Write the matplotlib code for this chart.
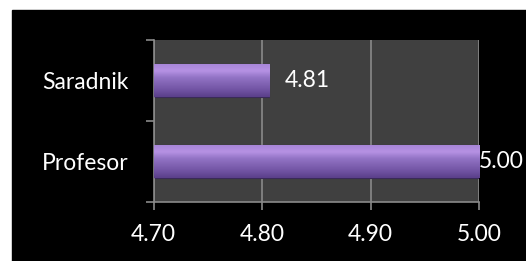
import numpy as np
import matplotlib.pyplot as plt
from matplotlib.colors import LinearSegmentedColormap

# data
categories = ['Profesor', 'Saradnik']
values = [5.00, 4.806]
xticks = [4.70, 4.80, 4.90, 5.00]
xmin, xmax = 4.70, 5.00

plt.rcParams['font.family'] = ['Lato', 'DejaVu Sans']

fig = plt.figure(figsize=(5.26, 2.61), dpi=100, facecolor='white')
# black chart area (white strip on left and top)
bg = plt.Rectangle((12 / 526, 0), 1, 1 - 10 / 261, transform=fig.transFigure,
                   color='black', zorder=-10)
fig.add_artist(bg)
ax = fig.add_axes([153.5 / 526, 1 - 202 / 261, 325.5 / 526, 162 / 261])
ax.set_facecolor('#404040')

y = np.arange(len(categories))
bars = ax.barh(y, values, height=0.4, left=0, color='#7f5fb0', zorder=2)

# vertical gradient on each bar
cmap = LinearSegmentedColormap.from_list(
    'bar', ['#5a3f8a', '#7052a2', '#8163b3', '#9374c6', '#b692e4', '#a886d8'])
grad = np.linspace(0, 1, 64).reshape(-1, 1)
for b in bars:
    x0, y0 = b.get_x(), b.get_y()
    x1 = x0 + b.get_width()
    ax.imshow(grad, cmap=cmap, aspect='auto', origin='lower',
              extent=[max(x0, xmin), min(x1, xmax), y0, y0 + b.get_height()],
              zorder=3, interpolation='bicubic')
    b.set_edgecolor('#3a2a58')
    b.set_linewidth(0.8)

ax.set_xlim(xmin, xmax)
ax.set_ylim(-0.5, len(categories) - 0.5)
ax.set_xticks(xticks)
ax.set_xticklabels([f'{t:.2f}' for t in xticks])
ax.set_yticks(y)
ax.set_yticklabels(categories)
ax.set_yticks([-0.5, 0.5, 1.5], minor=True)

ax.grid(axis='x', color='#8a8a8a', linewidth=1.2, zorder=1)
ax.set_axisbelow(True)
for side in ['top', 'right']:
    ax.spines[side].set_visible(False)
for side in ['left', 'bottom']:
    ax.spines[side].set_color('#8a8a8a')
    ax.spines[side].set_linewidth(1.2)

ax.tick_params(axis='x', colors='white', labelsize=16.5, length=6, width=1.2,
               color='#8a8a8a', pad=10)
ax.tick_params(axis='y', which='major', colors='white', labelsize=16.5, length=0, pad=18)
ax.tick_params(axis='y', which='minor', length=6, width=1.2, color='#8a8a8a')

for yi, v in zip(y, values):
    off = 0 if v >= xmax else 11.5
    ax.annotate(f'{v:.2f}', (v, yi), xytext=(off, 0), textcoords='offset points',
                va='center', ha='left', color='white', fontsize=16.5, zorder=5,
                annotation_clip=False)

fig.savefig('out.png', dpi=100, facecolor='white')
